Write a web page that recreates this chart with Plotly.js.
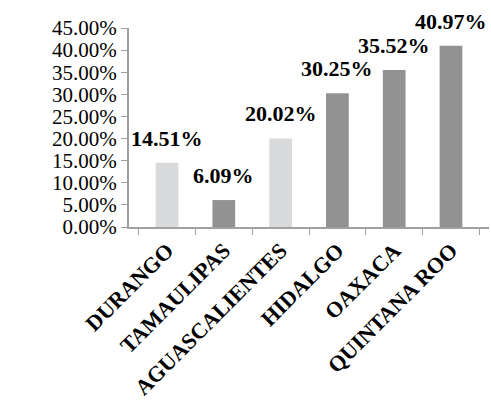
<!DOCTYPE html>
<html>
<head>
<meta charset="utf-8">
<script src="https://cdn.plot.ly/plotly-3.0.1.min.js"></script>
<style>html,body{margin:0;padding:0;background:#fff;}#chart{width:491px;height:415px;}</style>
</head>
<body>
<div id="chart"></div>
<script>
const categories = ["DURANGO", "TAMAULIPAS", "AGUASCALIENTES", "HIDALGO", "OAXACA", "QUINTANA ROO"];
const values = [0.1451, 0.0609, 0.2002, 0.3025, 0.3552, 0.4097];
const labels = ["14.51%", "6.09%", "20.02%", "30.25%", "35.52%", "40.97%"];
const barColors = ["#d9dadc", "#929292", "#d9dadc", "#929292", "#929292", "#929292"];
const tickVals = [0, 0.05, 0.10, 0.15, 0.20, 0.25, 0.30, 0.35, 0.40, 0.45];

const serif = "Liberation Serif";

const trace = {
  type: "bar",
  x: categories,
  y: values,
  marker: {color: barColors},
  width: 0.4,
  hoverinfo: "none"
};

const annotations = categories.map((c, i) => ({
  x: c, y: values[i], xref: "x", yref: "y",
  text: "<b>" + labels[i] + "</b>",
  showarrow: false, yanchor: "bottom", xanchor: "center",
  yshift: 10,
  font: {family: serif, size: 22, color: "#000"}
}));

const layout = {
  width: 491, height: 415,
  margin: {l: 129, r: 2, t: 28, b: 188, autoexpand: false},
  paper_bgcolor: "#fff", plot_bgcolor: "#fff",
  showlegend: false,
  bargap: 0.6,
  xaxis: {
    type: "category",
    tickangle: -45,
    tickfont: {family: serif, size: 22, color: "#000", weight: "bold"},
    showline: true, linecolor: "#a0a0a0", linewidth: 2,
    ticks: "outside", ticklen: 6, tickcolor: "#a0a0a0", tickwidth: 1,
    tickson: "boundaries",
    showgrid: false, zeroline: false,
    automargin: false
  },
  yaxis: {
    range: [0, 0.45],
    tickvals: tickVals,
    tickformat: ".2%",
    tickfont: {family: serif, size: 21, color: "#000"},
    showline: true, linecolor: "#a0a0a0", linewidth: 2,
    ticks: "outside", ticklen: 6, tickcolor: "#a0a0a0", tickwidth: 1,
    showgrid: false, zeroline: false,
    automargin: false
  },
  annotations: annotations
};

Plotly.newPlot("chart", [trace], layout, {staticPlot: true});
</script>
</body>
</html>
